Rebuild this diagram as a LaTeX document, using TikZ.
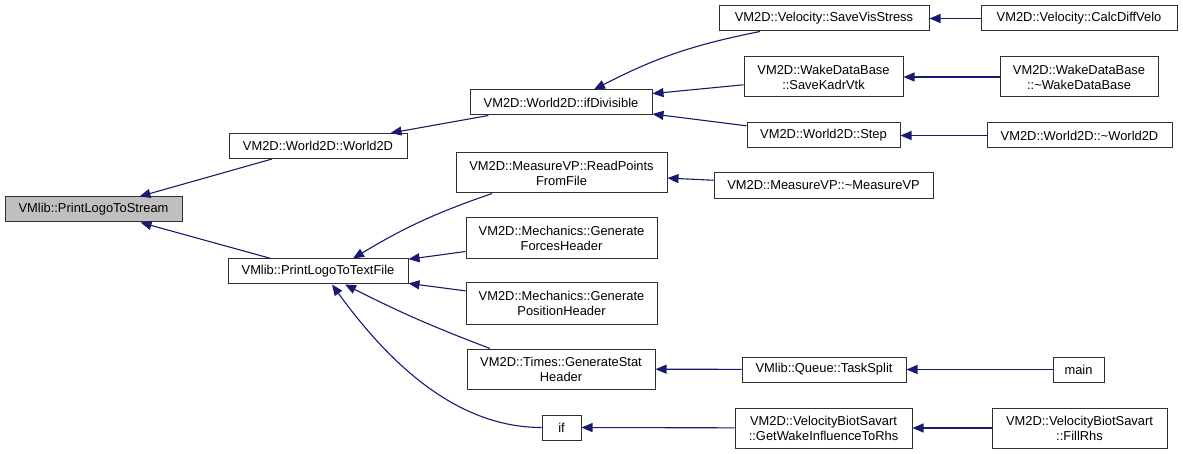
\documentclass[tikz,border=0pt]{standalone}
\usepackage{fontspec}
\setmainfont{Liberation Sans}
\usetikzlibrary{arrows.meta}
\definecolor{navy}{HTML}{191970}
\definecolor{boxline}{HTML}{303030}
\definecolor{focus}{HTML}{BFBFBF}

\begin{document}
\begin{tikzpicture}[x=1pt, y=1pt, font=\fontsize{12.9}{15}\selectfont,
    fn/.style={draw=boxline, fill=white, line width=1pt, inner sep=1pt, align=center, minimum height=25pt},
    fn2/.style={fn, minimum height=40pt},
    call/.style={draw=navy, line width=1.1pt, -{Triangle[length=11pt, width=9pt]}}]
  \useasboundingbox (0,0) rectangle (1183,-454);

  % Root and first level.
  \node[fn, fill=focus, minimum width=177pt] (stream) at (93.5,-209.5) {VMlib::PrintLogoToStream};
  \node[fn, minimum width=178pt] (w2d) at (318,-146) {VM2D::World2D::World2D};
  \node[fn, minimum width=180pt] (ptf) at (318,-271.5) {VMlib::PrintLogoToTextFile};

  % Second level.
  \node[fn, minimum width=182pt] (ifdiv) at (561,-102.5) {VM2D::World2D::ifDivisible};
  \node[fn2, minimum width=211pt] (readpts) at (561.5,-173) {VM2D::MeasureVP::ReadPoints\\FromFile};
  \node[fn2, minimum width=191pt, minimum height=41pt] (forces) at (561.5,-238.5) {VM2D::Mechanics::Generate\\ForcesHeader};
  \node[fn2, minimum width=191pt, minimum height=41pt] (position) at (561.5,-303.5) {VM2D::Mechanics::Generate\\PositionHeader};
  \node[fn2, minimum width=188pt] (genstat) at (561,-369) {VM2D::Times::GenerateStat\\Header};
  \node[fn, minimum width=39pt] (if) at (561.5,-427.5) {if};

  % Third level.
  \node[fn, minimum width=210pt] (savevis) at (824,-18.5) {VM2D::Velocity::SaveVisStress};
  \node[fn2, minimum width=159pt] (savekadr) at (823.5,-77) {VM2D::WakeDataBase\\::SaveKadrVtk};
  \node[fn, minimum width=153pt] (step) at (823.5,-135.5) {VM2D::World2D::Step};
  \node[fn, minimum width=219pt, minimum height=26pt] (mvpdtor) at (823.5,-185.5) {VM2D::MeasureVP::\textasciitilde MeasureVP};
  \node[fn, minimum width=164pt] (tasksplit) at (824,-369.5) {VMlib::Queue::TaskSplit};
  \node[fn2, minimum width=177pt] (getwake) at (823.5,-428) {VM2D::VelocityBiotSavart\\::GetWakeInfluenceToRhs};

  % Fourth level.
  \node[fn, minimum width=196pt] (calcdiff) at (1079,-18.5) {VM2D::Velocity::CalcDiffVelo};
  \node[fn2, minimum width=158pt] (wakedtor) at (1079,-77) {VM2D::WakeDataBase\\::\textasciitilde WakeDataBase};
  \node[fn, minimum width=185pt] (w2ddtor) at (1079.5,-135.5) {VM2D::World2D::\textasciitilde World2D};
  \node[fn, minimum width=51pt] (main) at (1078.5,-369.5) {main};
  \node[fn2, minimum width=175pt] (fillrhs) at (1079.5,-428) {VM2D::VelocityBiotSavart\\::FillRhs};

  % Calls (arrow points to the callee).
  \draw[call] (w2d) -- (stream);
  \draw[call] (ptf) -- (stream);
  \draw[call] (ifdiv) -- (w2d);
  \draw[call] ([xshift=-69.5pt]readpts.south) to[bend right=6] ([xshift=35pt]ptf.north);
  \draw[call] (forces) -- (ptf);
  \draw[call] (position) -- (ptf);
  \draw[call] ([xshift=-71pt]genstat.north) to[bend left=3] ([xshift=27pt]ptf.south);
  \draw[call] (if.west) to[out=180, in=-54, looseness=0.9] ([xshift=14pt]ptf.south);
  \draw[call] ([xshift=-64pt]savevis.south) to[bend right=8] ([xshift=33pt]ifdiv.north);
  \draw[call] (savekadr) -- (ifdiv);
  \draw[call] (step) -- (ifdiv);
  \draw[call] (mvpdtor) -- (readpts);
  \draw[call] (tasksplit) -- (genstat);
  \draw[call] (getwake) -- (if);
  \draw[call] (calcdiff) -- (savevis);
  \draw[call] (wakedtor) -- (savekadr);
  \draw[call] (w2ddtor) -- (step);
  \draw[call] (main) -- (tasksplit);
  \draw[call] (fillrhs) -- (getwake);
\end{tikzpicture}
\end{document}
